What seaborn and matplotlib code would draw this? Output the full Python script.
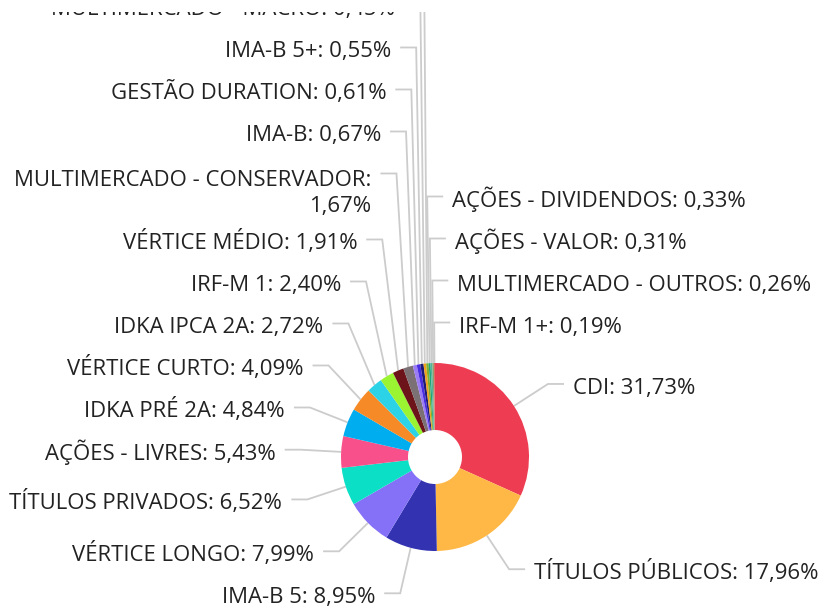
import numpy as np
import matplotlib
matplotlib.use("Agg")
import matplotlib.pyplot as plt
import seaborn as sns

# dados (sentido horário a partir do topo)
categorias = ["CDI", "TÍTULOS PÚBLICOS", "IMA-B 5", "VÉRTICE LONGO", "TÍTULOS PRIVADOS",
              "AÇÕES - LIVRES", "IDKA PRÉ 2A", "VÉRTICE CURTO", "IDKA IPCA 2A", "IRF-M 1",
              "VÉRTICE MÉDIO", "MULTIMERCADO - CONSERVADOR", "IMA-B", "GESTÃO DURATION",
              "IMA-B 5+", "MULTIMERCADO - MACRO", "IRF-M", "AÇÕES - DIVIDENDOS",
              "AÇÕES - VALOR", "MULTIMERCADO - OUTROS", "IRF-M 1+"]
percentuais = [31.73, 17.96, 8.95, 7.99, 6.52, 5.43, 4.84, 4.09, 2.72, 2.40, 1.91, 1.67,
               0.67, 0.61, 0.55, 0.45, 0.42, 0.33, 0.31, 0.26, 0.19]
cores = ["#EE3D53", "#FFB845", "#3333B2", "#8571F8", "#0BE0C6", "#F8508A", "#00ADEF",
         "#F58A27", "#2CD3E6", "#9BF432", "#6C1419", "#7B7074", "#9C7CF5", "#4A2FE2",
         "#1E1B78", "#F0A11E", "#7FB030", "#22A77B", "#54B39A", "#8C9E6A", "#E0695E"]

# layout (pixels)
W, H = 820, 608
TOP = 12  # área de desenho começa um pouco abaixo do topo
CX, CY = 435, 457
R_OUT, R_IN = 94, 27
R_LINE = 134.5
LEN2 = 16
GAP_TXT = 9
H1, H2 = 42, 66
FS = 15.9

sns.set_theme(style="white")
plt.rcParams['font.family'] = ['Open Sans', 'DejaVu Sans']

fig = plt.figure(figsize=(8.2, 6.08), dpi=100)
ax = fig.add_axes([0, 0, 1, (H - TOP) / H])
wedges, _ = ax.pie(percentuais, colors=cores, radius=R_OUT, center=(CX, CY),
                   startangle=270, counterclock=True,
                   wedgeprops=dict(width=R_OUT - R_IN, linewidth=0))
ax.set_xlim(0, W)
ax.set_ylim(H, TOP)
ax.set_aspect('equal')
ax.axis('off')


def fmt(v):
    return f"{v:.2f}".replace(".", ",") + "%"


itens = []
for w, nome, v in zip(wedges, categorias, percentuais):
    ang = np.deg2rad((w.theta1 + w.theta2) / 2)
    ux, uy = np.cos(ang), np.sin(ang)
    texto = f"{nome}: {fmt(v)}"
    if len(texto) > 30:
        texto = f"{nome}:\n{fmt(v)}"
    lado = 1 if ux > -0.07 else -1
    horario = (np.degrees(ang) - 270) % 360
    if lado == 1 and horario > 180:
        horario -= 360
    itens.append(dict(ux=ux, uy=uy, texto=texto, lado=lado, chave=horario,
                      y=CY + R_LINE * uy, h=H2 if "\n" in texto else H1))

# evita sobreposição dos rótulos em cada lado
for lado in (-1, 1):
    grupo = sorted([it for it in itens if it['lado'] == lado], key=lambda it: it['chave'] * lado)
    a = int(np.argmin([abs(it['y'] - CY) for it in grupo]))
    for i in range(a - 1, -1, -1):
        grupo[i]['y'] = min(grupo[i]['y'], grupo[i + 1]['y'] - grupo[i]['h'])
    for i in range(a + 1, len(grupo)):
        grupo[i]['y'] = max(grupo[i]['y'], grupo[i - 1]['y'] + grupo[i - 1]['h'])

for it in itens:
    lado = it['lado']
    x0, y0 = CX + R_OUT * it['ux'], CY + R_OUT * it['uy']
    xe, ye = CX + R_LINE * it['ux'], it['y']
    xf = xe + LEN2 * lado
    ax.plot([x0, xe, xf], [y0, ye, ye], color='#cccccc', lw=1.3, zorder=0,
            solid_joinstyle='miter', solid_capstyle='butt')
    ha = 'left' if lado == 1 else 'right'
    linhas = it['texto'].split("\n")
    base = ye + (13 if len(linhas) > 1 else 10)
    for k, ln in enumerate(linhas):
        ax.text(xf + GAP_TXT * lado, base + 26 * k, ln, ha=ha, va='baseline',
                fontsize=FS, color='#222222', clip_on=True)

plt.savefig("out.png", dpi=100)
plt.close()
